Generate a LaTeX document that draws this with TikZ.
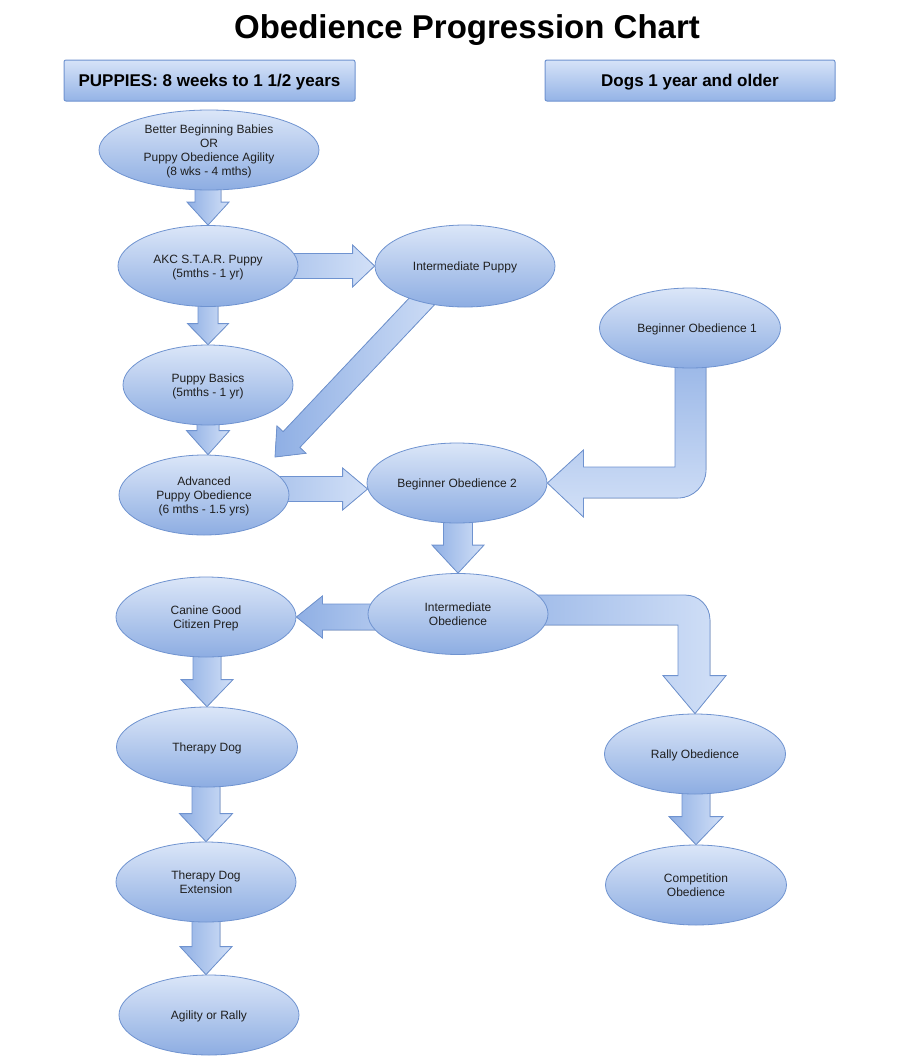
\documentclass[tikz,border=0pt]{standalone}
\usepackage{fontspec}
\setmainfont{Liberation Sans}
\usetikzlibrary{shapes.geometric,calc}
\definecolor{ellTop}{HTML}{DBE6F8}
\definecolor{ellBot}{HTML}{8DADE2}
\definecolor{edgeblue}{HTML}{6F93D0}
\definecolor{arrDark}{HTML}{8FAFE4}
\definecolor{arrLight}{HTML}{D2E0F7}
\definecolor{hdrTop}{HTML}{D6E3F8}
\definecolor{hdrBot}{HTML}{94B3E6}
\pgfdeclarelayer{paper}
\pgfdeclarelayer{bg}
\pgfsetlayers{paper,bg,main}
\tikzset{
  ell/.style={ellipse, draw=edgeblue, line width=0.8pt, top color=ellTop, bottom color=ellBot,
    minimum width=180pt, minimum height=80pt, inner sep=0pt, align=center, text depth=0pt,
    font=\fontsize{12}{14}\selectfont, text=black!88},
  hdr/.style={rectangle, rounded corners=2pt, draw=edgeblue, line width=1pt, top color=hdrTop,
    bottom color=hdrBot, minimum height=41pt, inner sep=0pt, text depth=0pt,
    font=\fontsize{17}{20}\selectfont\bfseries},
  blk/.style={draw=edgeblue, line width=0.8pt, line join=miter},
  blkH/.style={blk, left color=arrDark, right color=arrLight},
  blkV/.style={blk, top color=arrDark, bottom color=arrLight},
}
% #1 extra options, #2 from, #3 tip, #4 shaft half width, #5 head half width, #6 head length
\newcommand{\blockarrow}[6][]{%
  \coordinate (bahead) at ($(#3)!#6!(#2)$);
  \filldraw[blkH,#1] ($(#2)!#4!90:(#3)$) -- ($(bahead)!#4!90:(#3)$) -- ($(bahead)!#5!90:(#3)$)
    -- (#3) -- ($(bahead)!#5!-90:(#3)$) -- ($(bahead)!#4!-90:(#3)$) -- ($(#2)!#4!-90:(#3)$) -- cycle;
}
\begin{document}
\begin{tikzpicture}[x=1pt,y=-1pt]
\begin{pgfonlayer}{paper}
\fill[white] (0,0) rectangle (900,1060);
\end{pgfonlayer}
\useasboundingbox (0,0) rectangle (900,1060);

\node[font=\fontsize{33}{38}\selectfont\bfseries, anchor=base] (title) at (467,38) {Obedience Progression Chart};

\node[hdr, minimum width=291pt] (h1) at (209.5,80.5) {PUPPIES: 8 weeks to 1 1/2 years};
\node[hdr, minimum width=290pt] (h2) at (690,80.5) {Dogs 1 year and older};

\node[ell, minimum width=220pt] (e1) at (209,150) {Better Beginning Babies\\OR\\Puppy Obedience Agility\\(8 wks - 4 mths)};
\node[ell, minimum height=81pt] (e2) at (208,266) {AKC S.T.A.R. Puppy\\(5mths - 1 yr)};
\node[ell, minimum height=82pt] (e3) at (465,266) {Intermediate Puppy};
\node[ell, minimum width=170pt] (e4) at (208,385) {Puppy Basics\\(5mths - 1 yr)};
\node[ell, minimum width=170pt] (e5) at (204,495) {Advanced\\Puppy Obedience\\(6 mths - 1.5 yrs)};
\node[ell] (e6) at (457,483) {Beginner Obedience 2};
\node[ell, minimum width=181pt, inner xsep=-12pt] (e7) at (690,328) {\hspace*{14pt}Beginner Obedience 1};
\node[ell, minimum height=81pt] (e8) at (458,614) {Intermediate\\Obedience};
\node[ell] (e9) at (206,617) {Canine Good\\Citizen Prep};
\node[ell, minimum width=181pt] (e10) at (695,754) {Rally Obedience};
\node[ell, minimum width=181pt] (e11) at (696,885) {Competition\\Obedience};
\node[ell, minimum width=181pt] (e12) at (207,747) {Therapy Dog};
\node[ell] (e13) at (206,882) {Therapy Dog\\Extension};
\node[ell] (e14) at (209,1015) {Agility or Rally};

\begin{pgfonlayer}{bg}
\coordinate (a1) at (e2.north |- e1.center);
\blockarrow{a1}{e2.north}{13pt}{21pt}{23pt}
\coordinate (a2) at (e4.north |- e2.center);
\blockarrow{a2}{e4.north}{10pt}{20.5pt}{21pt}
\coordinate (b3) at (e4.center |- e5.north);
\blockarrow{e4.center}{b3}{11pt}{21.5pt}{24pt}
\blockarrow{e2.center}{e3.west}{12.5pt}{21pt}{22pt}
\coordinate (a5) at ($(e3.center)+(-22,13)$);
\coordinate (b5) at ($(e5.center)+(71,-38)$);
\blockarrow{a5}{b5}{11.5pt}{20pt}{24pt}
\coordinate (a6) at ($(e5.center)+(0,-6)$);
\coordinate (b6) at ($(e6.west)+(1,6)$);
\blockarrow{a6}{b6}{12.5pt}{21pt}{25pt}
\coordinate (a8) at (e8.north |- e6.center);
\blockarrow{a8}{e8.north}{14.5pt}{26pt}{28pt}
\coordinate (a9) at (e8.center |- e9.east);
\blockarrow{a9}{e9.east}{13pt}{21pt}{26pt}
\coordinate (a11) at (e11.north |- e10.center);
\blockarrow{a11}{e11.north}{14pt}{27pt}{28pt}
\coordinate (a12) at (e12.north |- e9.center);
\blockarrow{a12}{e12.north}{14pt}{26pt}{27pt}
\coordinate (a13) at (e13.north |- e12.center);
\blockarrow{a13}{e13.north}{14pt}{26.5pt}{28pt}
\coordinate (b14) at (e13.center |- e14.north);
\blockarrow{e13.center}{b14}{14pt}{26pt}{28pt}

% bent arrow: Beginner Obedience 1 -> Beginner Obedience 2
\filldraw[blkV] let \p1=(e7.center), \p2=(e6.east) in
  (\x1-15pt,\y1) -- (\x1-15pt,\y2+16pt) -- (\x2+36pt,\y2+16pt) -- (\x2+36pt,\y2+33pt)
  -- (\x2,\y2) -- (\x2+36pt,\y2-34pt) -- (\x2+36pt,\y2-15pt) -- (\x1+16pt-28pt,\y2-15pt)
  .. controls (\x1+16pt-12.5pt,\y2-15pt) and (\x1+16pt,\y2-15pt+12.5pt) .. (\x1+16pt,\y2-15pt+28pt)
  -- (\x1+16pt,\y1) -- cycle;

% bent arrow: Intermediate Obedience -> Rally Obedience
\filldraw[blkH] let \p1=(e8.center), \p2=(e10.north) in
  (\x1,\y1+19pt) -- (\x2+15pt-25pt,\y1+19pt)
  .. controls (\x2+15pt-11pt,\y1+19pt) and (\x2+15pt,\y1+19pt-11pt) .. (\x2+15pt,\y1+19pt-25pt)
  -- (\x2+15pt,\y2+38pt) -- (\x2+31pt,\y2+38pt) -- (\x2,\y2) -- (\x2-32pt,\y2+38pt)
  -- (\x2-17pt,\y2+38pt) -- (\x2-17pt,\y1-11pt) -- (\x1,\y1-11pt) -- cycle;
\end{pgfonlayer}
\end{tikzpicture}
\end{document}
